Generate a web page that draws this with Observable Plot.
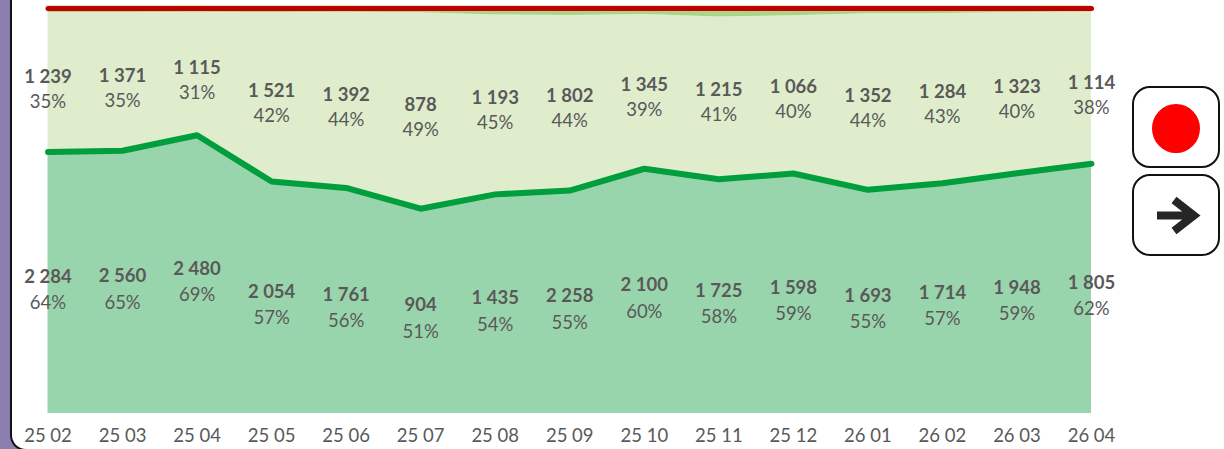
<!DOCTYPE html>
<html>
<head>
<meta charset="utf-8">
<script src="https://cdn.jsdelivr.net/npm/d3@7"></script>
<script src="https://cdn.jsdelivr.net/npm/@observablehq/plot@0.6"></script>
<style>
html,body{margin:0;padding:0;background:#fff;overflow:hidden;width:1224px;height:449px}
#stage{position:relative;width:1224px;height:449px;overflow:hidden}
#rail{position:absolute;left:0;top:0;width:24px;height:449px;background:#8a7fae}
#panel{position:absolute;left:10px;top:-20px;width:1300px;height:469px;background:#fff;border-left:2px solid #111;border-bottom:2px solid #111;border-bottom-left-radius:16px}
#chart{position:absolute;left:0;top:0}
.btn{position:absolute;left:1132px;width:84px;height:78px;border:2px solid #111;border-radius:18px;background:#fff}
#rec{top:86px}
#rec i{position:absolute;left:17.7px;top:15.5px;width:48px;height:49px;border-radius:50%;background:#ff0000}
#next{top:174px}
#next svg{position:absolute;left:0;top:0}
</style>
</head>
<body>
<div id="stage">
  <div id="rail"></div>
  <div id="panel"></div>
  <div id="chart"></div>
  <div class="btn" id="rec"><i></i></div>
  <div class="btn" id="next"><svg width="84" height="78"><path d="M23 39.5H56M40 24L60 39.5L40 55" fill="none" stroke="#262626" stroke-width="8"/></svg></div>
</div>
<script>
const months = ["25 02","25 03","25 04","25 05","25 06","25 07","25 08","25 09","25 10","25 11","25 12","26 01","26 02","26 03","26 04"];
const greenCounts = [2284,2560,2480,2054,1761,904,1435,2258,2100,1725,1598,1693,1714,1948,1805];
const lightCounts = [1239,1371,1115,1521,1392,878,1193,1802,1345,1215,1066,1352,1284,1323,1114];
const sliverCounts = [57,63,57,57,50,30,59,96,73,81,66,60,56,53,43];
const greenPct = [64,65,69,57,56,51,54,55,60,58,59,55,57,59,62];
const lightPct = [35,35,31,42,44,49,45,44,39,41,40,44,43,40,38];

const fmt = v => d3.format(",")(v).replace(",", " ");
const rows = months.map((m,i) => {
  const t = greenCounts[i] + lightCounts[i] + sliverCounts[i];
  return {m, g: greenCounts[i]/t, l: (greenCounts[i]+lightCounts[i])/t,
    gc: fmt(greenCounts[i]), lc: fmt(lightCounts[i]),
    gp: greenPct[i]+"%", lp: lightPct[i]+"%"};
});
const ink = "#595959", font = "Lato, Carlito, sans-serif";
const chart = Plot.plot({
  width: 1224, height: 449,
  marginLeft: 47.5, marginRight: 133, marginTop: 5.5, marginBottom: 36,
  style: {background: "transparent", fontFamily: font},
  x: {type: "point", domain: months, padding: 0, round: false, label: null},
  y: {domain: [0,1], axis: null},
  marks: [
    Plot.axisX({tickSize: 0, tickPadding: 15, fontSize: 18.5, fill: ink, label: null}),
    Plot.areaY(rows, {x: "m", y1: 0, y2: "g", fill: "#99d5ac"}),
    Plot.areaY(rows, {x: "m", y1: "g", y2: "l", fill: "#dfedcc"}),
    Plot.areaY(rows, {x: "m", y1: "l", y2: 1, fill: "#a9d587"}),
    Plot.lineY(rows, {x: "m", y: "g", dy: -1.5, stroke: "#009e3d", strokeWidth: 6}),
    Plot.lineY(rows, {x: "m", y: () => 1, dy: 2.5, stroke: "#c00000", strokeWidth: 5}),
    Plot.text(rows, {x: "m", y: d => d.g/2, text: "gc", dy: -6.5, fontSize: 18.5, fontWeight: 700, fill: ink}),
    Plot.text(rows, {x: "m", y: d => d.g/2, text: "gp", dy: 20, fontSize: 18.5, fill: ink}),
    Plot.text(rows, {x: "m", y: d => (d.g+1)/2, text: "lc", dy: -3, fontSize: 18.5, fontWeight: 700, fill: ink}),
    Plot.text(rows, {x: "m", y: d => (d.g+1)/2, text: "lp", dy: 22, fontSize: 18.5, fill: ink})
  ]
});
document.getElementById("chart").append(chart);
</script>
</body>
</html>
